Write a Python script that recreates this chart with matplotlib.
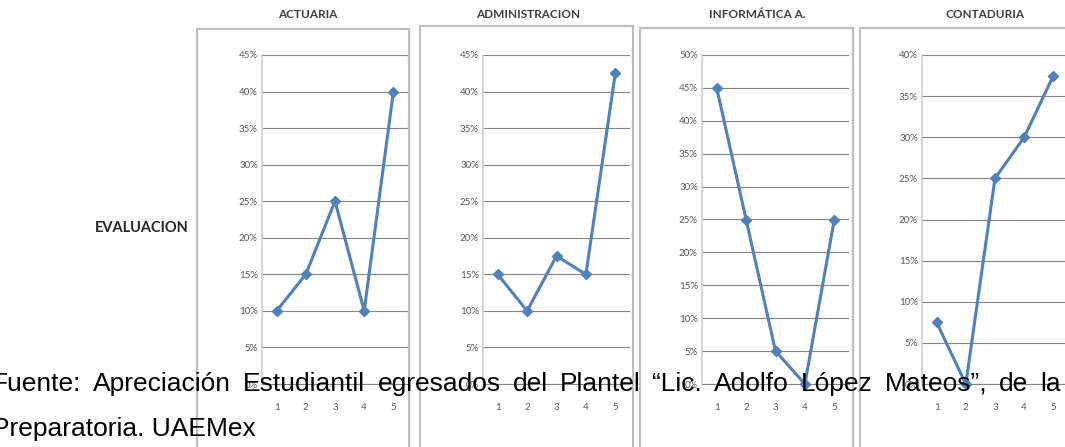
import matplotlib
matplotlib.use('Agg')
import matplotlib.pyplot as plt
from matplotlib.patches import Rectangle
from matplotlib.ticker import MultipleLocator, FuncFormatter

# datos (proporcion de alumnos por nivel)
carreras = ['ACTUARIA', 'ADMINISTRACION', 'INFORMÁTICA A.', 'CONTADURIA']
niveles = [1, 2, 3, 4, 5]
actuaria = [0.10, 0.15, 0.25, 0.10, 0.40]
administracion = [0.15, 0.10, 0.175, 0.15, 0.425]
informatica = [0.45, 0.25, 0.05, 0.0, 0.25]
contaduria = [0.075, 0.0, 0.25, 0.30, 0.375]
series = [actuaria, administracion, informatica, contaduria]
maximos = [0.45, 0.45, 0.50, 0.40]

etiqueta = 'EVALUACION'
fuente_1 = 'Fuente: Apreciación Estudiantil egresados del Plantel “Lic. Adolfo López Mateos”, de la'
fuente_2 = 'Preparatoria. UAEMex'

W, H = 1065, 447
fig = plt.figure(figsize=(W / 100, H / 100), dpi=100)
fig.patch.set_facecolor('white')

# posiciones en pixeles: marco de cada grafica y area de trazado
marcos = [(197, 29, 409), (420, 26, 633), (640, 28, 853), (860, 28, 1080)]
areas = [(262, 408), (483, 630), (702, 849), (922, 1068)]
centros_titulo = [308, 528, 757, 985]
arriba, abajo = 55, 384


def fx(px):
    return px / W


def fy(py):
    return 1 - py / H


for i in range(4):
    x0, y0, x1 = marcos[i]
    fig.patches.append(Rectangle((fx(x0), fy(470)), fx(x1 - x0), fy(y0) - fy(470),
                                 transform=fig.transFigure, facecolor='none',
                                 edgecolor='#BFBFBF', linewidth=1.6, zorder=-5))
    fig.text(fx(centros_titulo[i]), fy(15), carreras[i], ha='center', va='center',
             fontsize=8.5, fontweight='bold', color='#404040', family='Lato')

    l, r = areas[i]
    ax = fig.add_axes([fx(l), fy(abajo), fx(r - l), fy(arriba) - fy(abajo)])
    ax.plot(niveles, series[i], color='#4F81BD', linewidth=2.2, marker='D',
            markersize=5.5, markerfacecolor='#4F81BD', markeredgecolor='#4F81BD',
            clip_on=False, zorder=3)
    ax.set_xlim(0.5, 5.5)
    ax.set_ylim(0, maximos[i])
    ax.yaxis.set_major_locator(MultipleLocator(0.05))
    ax.yaxis.set_major_formatter(FuncFormatter(lambda v, p: '{0:.0f}%'.format(v * 100)))
    ax.set_xticks(niveles)
    ax.grid(axis='y', color='#868686', linewidth=0.8)
    ax.set_axisbelow(True)
    for s in ['top', 'right']:
        ax.spines[s].set_visible(False)
    ax.spines['left'].set_color('#D0D0D0')
    ax.spines['left'].set_linewidth(1.2)
    ax.spines['bottom'].set_color('#868686')
    ax.spines['bottom'].set_linewidth(0.8)
    ax.tick_params(axis='y', length=0, pad=3, labelsize=7, labelcolor='#595959')
    ax.tick_params(axis='x', length=0, pad=14, labelsize=7, labelcolor='#595959')
    for t in ax.get_xticklabels() + ax.get_yticklabels():
        t.set_family('Lato')
    ax.patch.set_alpha(0)

fig.text(fx(95), fy(228), etiqueta, ha='left', va='center', fontsize=10.5,
         fontweight='bold', color='#262626', family='Lato')

# texto del documento, justificado a todo el ancho
renderer = fig.canvas.get_renderer()
palabras = fuente_1.split(' ')
objs = []
for p in palabras:
    t = fig.text(0, fy(391), p, ha='left', va='baseline', fontsize=19,
                 family='Liberation Sans', color='black', zorder=10)
    objs.append(t)
anchos = [t.get_window_extent(renderer).width for t in objs]
inicio, fin = -8, 1061
hueco = (fin - inicio - sum(anchos)) / (len(palabras) - 1)
x = inicio
for t, a in zip(objs, anchos):
    t.set_x(fx(x))
    x += a + hueco

fig.text(fx(-8), fy(436), fuente_2, ha='left', va='baseline', fontsize=19,
         family='Liberation Sans', color='black', zorder=10)

fig.savefig('out.png', dpi=100)
